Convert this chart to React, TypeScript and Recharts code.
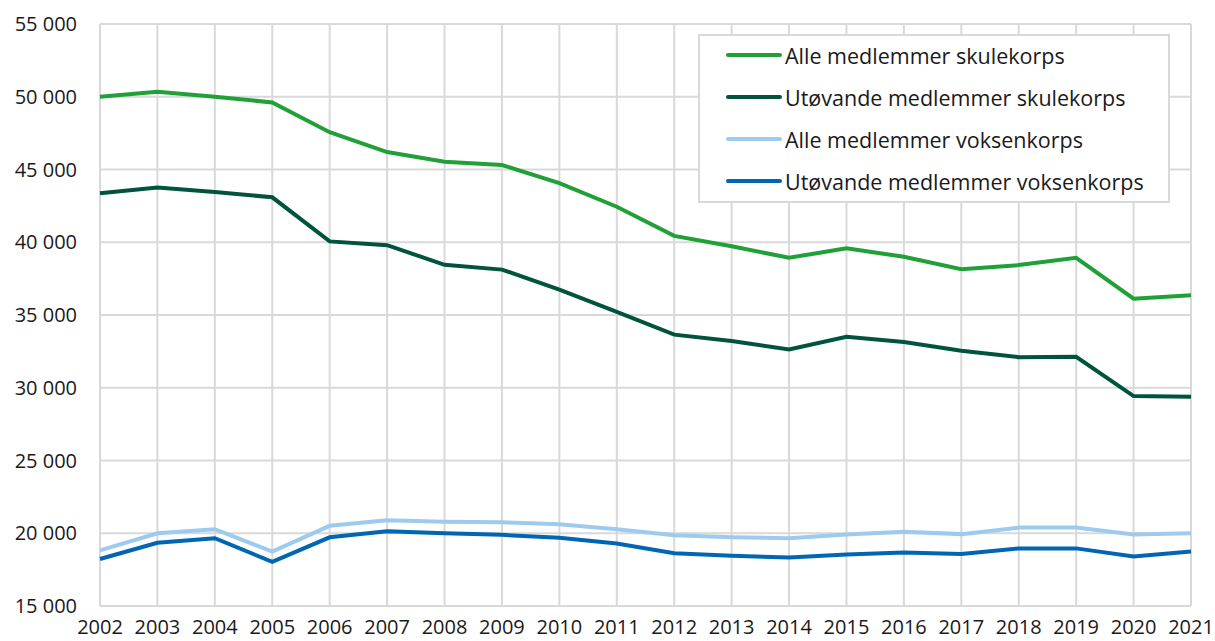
import React from 'react';
import { LineChart, Line, XAxis, YAxis, CartesianGrid, Legend } from 'recharts';

const years = ['2002','2003','2004','2005','2006','2007','2008','2009','2010','2011','2012','2013','2014','2015','2016','2017','2018','2019','2020','2021'];
const alleSkule = [50000,50340,50000,49610,47560,46200,45530,45310,44070,42440,40440,39720,38930,39580,39000,38150,38430,38930,36120,36350];
const utovSkule = [43370,43760,43450,43090,40060,39800,38450,38120,36750,35220,33650,33220,32630,33510,33140,32550,32100,32130,29430,29380];
const alleVoksen = [18820,20000,20280,18740,20510,20900,20790,20760,20620,20280,19860,19720,19660,19920,20110,19940,20390,20390,19920,20000];
const utovVoksen = [18230,19350,19660,18030,19720,20140,20000,19890,19690,19300,18620,18450,18340,18540,18680,18570,18960,18960,18400,18740];
const yTicks = [15000,20000,25000,30000,35000,40000,45000,50000,55000];

const seriesNames = ['Alle medlemmer skulekorps','Utøvande medlemmer skulekorps','Alle medlemmer voksenkorps','Utøvande medlemmer voksenkorps'];
const seriesKeys = ['alleSkule','utovSkule','alleVoksen','utovVoksen'];
const seriesColors = ['#21a038','#00533c','#9dcbef','#0066b3'];

const data = years.map((y, i) => ({
  year: y,
  alleSkule: alleSkule[i],
  utovSkule: utovSkule[i],
  alleVoksen: alleVoksen[i],
  utovVoksen: utovVoksen[i],
}));

const FONT = '"Open Sans", "Noto Sans", sans-serif';

const fmt = (v: number) => `${Math.round(v / 1000)} 000`;

const LegendBox = () => (
  <div style={{
    boxSizing: 'border-box',
    width: 472,
    height: 169,
    border: '2px solid #d9d9d9',
    background: '#fff',
    paddingTop: 0,
    paddingLeft: 26,
    fontFamily: FONT,
    fontSize: 21.5,
    color: '#1a1a1a',
    textAlign: 'left',
  }}>
    <div style={{ marginTop: -2 }}>
      {seriesNames.map((n, i) => (
        <div key={n} style={{ height: 42, display: 'flex', alignItems: 'center' }}>
          <svg width={56} height={8} style={{ marginRight: 3 }}>
            <line x1={2} y1={4} x2={54} y2={4} stroke={seriesColors[i]} strokeWidth={4} strokeLinecap="round" />
          </svg>
          <span>{n}</span>
        </div>
      ))}
    </div>
  </div>
);

export default function App() {
  return (
    <div style={{ position: 'fixed', left: 0, top: 0, width: 1215, height: 641, background: '#fff' }}>
      <LineChart width={1215} height={641} data={data} margin={{ top: 24, right: 24, bottom: 0, left: 0 }}>
        <CartesianGrid stroke="#d9d9d9" strokeWidth={2} />
        <XAxis
          dataKey="year"
          axisLine={false}
          tickLine={false}
          tickSize={0}
          tickMargin={14}
          height={35}
          interval={0}
          tick={{ fontFamily: FONT, fontSize: 20, fill: '#1a1a1a' }}
        />
        <YAxis
          domain={[15000, 55000]}
          ticks={yTicks}
          axisLine={false}
          tickLine={false}
          tickSize={0}
          tickMargin={23}
          width={100}
          tickFormatter={fmt}
          tick={{ fontFamily: FONT, fontSize: 20, fill: '#1a1a1a' }}
        />
        <Legend
          layout="vertical"
          align="center"
          verticalAlign="middle"
          content={() => <LegendBox />}
          wrapperStyle={{ position: 'absolute', left: 698, top: 34, width: 472, height: 169 }}
        />
        {seriesKeys.map((k, i) => (
          <Line
            key={k}
            type="linear"
            dataKey={k}
            name={seriesNames[i]}
            stroke={seriesColors[i]}
            strokeWidth={4}
            dot={false}
            activeDot={false}
            isAnimationActive={false}
          />
        ))}
      </LineChart>
    </div>
  );
}
